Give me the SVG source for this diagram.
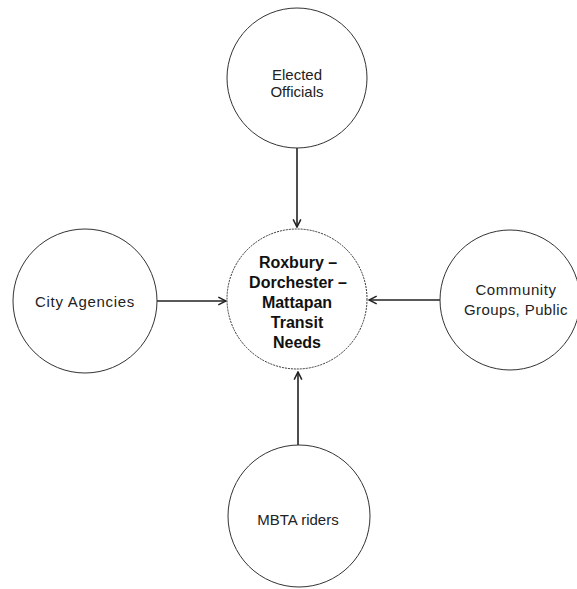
<svg xmlns="http://www.w3.org/2000/svg" width="577" height="589" viewBox="0 0 577 589">
  <style>
    .node circle { fill: #ffffff; stroke: #333333; stroke-width: 1; }
    .node text { font-family: "Liberation Sans", Arial, sans-serif; font-size: 15px; fill: #222222; text-anchor: middle; }
    #hub text { font-weight: bold; font-size: 16px; fill: #111111; }
    .edge { stroke: #222222; stroke-width: 1.6; fill: none; marker-end: url(#arrow); }
  </style>
  <defs>
    <marker id="arrow" viewBox="0 0 10 10" refX="9" refY="5" markerWidth="6" markerHeight="6" orient="auto" markerUnits="strokeWidth">
      <path d="M1,1 L9,5 L1,9" fill="none" stroke="#222222" stroke-width="1.6"/>
    </marker>
  </defs>
  <rect width="577" height="589" fill="#ffffff"/>

  <g id="connectors">
    <line class="edge" x1="297" y1="148" x2="297" y2="227"/>
    <line class="edge" x1="157" y1="301" x2="226" y2="301"/>
    <line class="edge" x1="440" y1="300" x2="369" y2="300"/>
    <line class="edge" x1="298" y1="445" x2="298" y2="372"/>
  </g>

  <g id="elected-officials" class="node">
    <circle cx="297" cy="78" r="70"/>
    <text x="297" y="80" font-size="14">Elected</text>
    <text x="297" y="97" font-size="14">Officials</text>
  </g>

  <g id="hub" class="node">
    <circle cx="297" cy="299" r="70" stroke-dasharray="2 1"/>
    <text x="298" y="268">Roxbury –</text>
    <text x="298" y="288">Dorchester –</text>
    <text x="297" y="308">Mattapan</text>
    <text x="297" y="328">Transit</text>
    <text x="297" y="348">Needs</text>
  </g>

  <g id="city-agencies" class="node">
    <circle cx="85" cy="301" r="72"/>
    <text x="85" y="307" letter-spacing="0.7">City Agencies</text>
  </g>

  <g id="community-groups" class="node">
    <circle cx="510" cy="300" r="70"/>
    <text x="516" y="295" letter-spacing="0.6">Community</text>
    <text x="516" y="315" letter-spacing="0.4">Groups, Public</text>
  </g>

  <g id="mbta-riders" class="node">
    <circle cx="299" cy="516" r="71"/>
    <text x="298" y="525">MBTA riders</text>
  </g>
</svg>
